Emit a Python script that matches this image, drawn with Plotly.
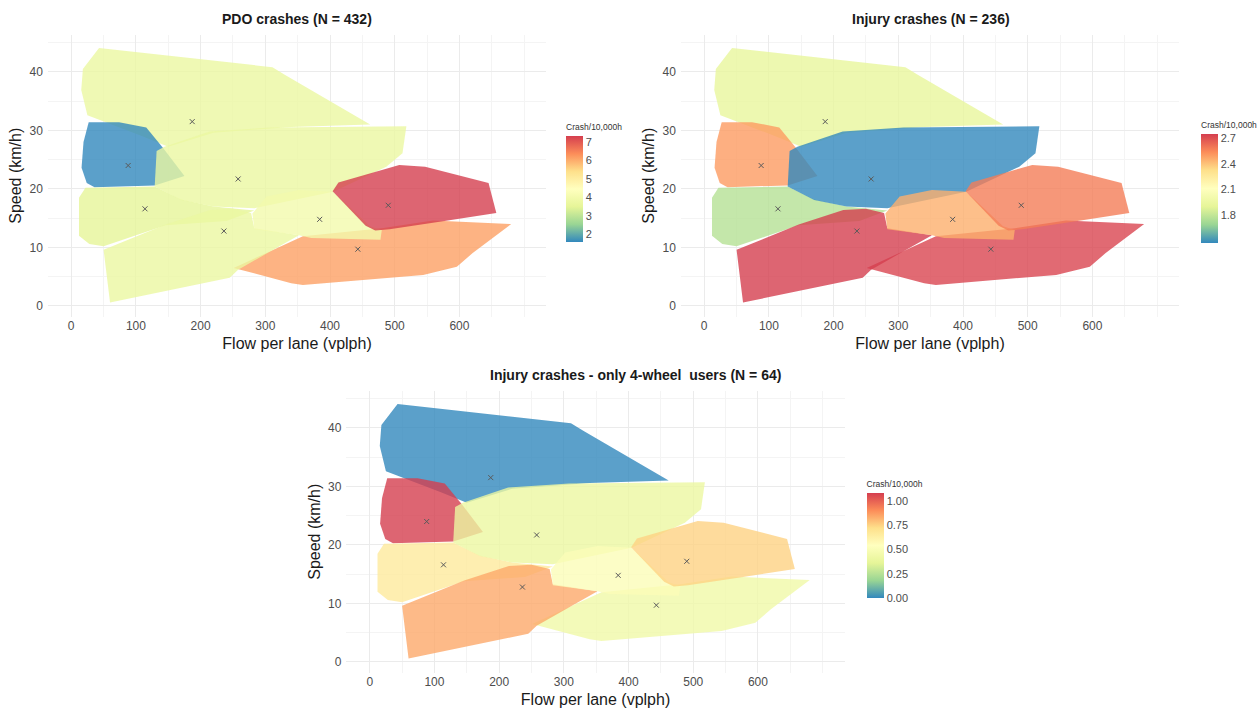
import plotly.graph_objects as go
from plotly.colors import sample_colorscale

W, H = 1257, 710

# Speed-flow regimes: convex hull of each cluster and its centroid
cluster_names = ["A", "B", "C", "D", "E", "F", "G", "H"]
centroid_flow = [187, 88, 258, 114, 236, 384, 490, 443]
centroid_speed = [31.5, 24.0, 21.7, 16.6, 12.8, 14.8, 17.2, 9.7]

hull_flow = [
    [43, 311, 330, 462, 340, 220, 150, 110, 25, 15.5, 18],
    [27, 74, 116, 142, 175, 129, 36, 24, 16, 19],
    [132, 144, 214, 308, 518, 512, 487, 405, 283, 220, 170, 129],
    [22, 129, 170, 220, 283, 240, 146, 50, 28, 12, 12],
    [50, 60, 245, 258, 352, 283, 278, 250, 215, 146],
    [280, 302, 352, 405, 462, 480, 478, 371, 352, 283],
    [404, 413, 507, 547, 645, 657, 577, 492, 470, 455],
    [251, 358, 480, 559, 680, 620, 596, 544, 358, 340],
]
hull_speed = [
    [44.1, 40.8, 39.5, 31.0, 30.6, 29.6, 27.2, 29.0, 32.6, 36.9, 40.5],
    [31.4, 31.4, 30.5, 27.0, 22.2, 20.6, 20.3, 21.0, 23.6, 28.0],
    [26.5, 27.2, 29.8, 30.5, 30.7, 26.1, 23.8, 19.5, 16.7, 17.0, 18.1, 20.4],
    [20.2, 20.4, 18.2, 17.0, 16.3, 14.5, 13.8, 10.2, 10.6, 12.0, 18.5],
    [9.6, 0.6, 4.8, 6.2, 12.1, 13.3, 15.9, 16.6, 16.4, 13.9],
    [15.8, 18.7, 19.8, 19.5, 13.6, 13.0, 11.3, 11.6, 12.1, 13.1],
    [19.6, 21.1, 24.1, 23.8, 21.0, 15.9, 14.5, 13.1, 12.9, 13.7],
    [6.5, 11.9, 13.3, 14.6, 14.0, 9.0, 6.7, 5.3, 3.6, 3.9],
]

# Crash rate (crashes per 10,000 h) in each regime
pdo_rate = [3.7, 1.57, 3.7, 3.5, 3.7, 4.0, 7.33, 6.15]
injury_rate = [1.92, 2.50, 1.47, 1.76, 2.75, 2.45, 2.58, 2.73]
injury4w_rate = [0.0, 1.08, 0.40, 0.66, 0.84, 0.51, 0.75, 0.43]

panel_titles = [
    "PDO crashes (N = 432)",
    "Injury crashes (N = 236)",
    "Injury crashes - only 4-wheel  users (N = 64)",
]
colorbar_ticks = [
    [2, 3, 4, 5, 6, 7],
    [1.8, 2.1, 2.4, 2.7],
    [0.0, 0.25, 0.5, 0.75, 1.0],
]
colorbar_ticktext = [
    ["2", "3", "4", "5", "6", "7"],
    ["1.8", "2.1", "2.4", "2.7"],
    ["0.00", "0.25", "0.50", "0.75", "1.00"],
]
flow_ticks = [0, 100, 200, 300, 400, 500, 600]
speed_ticks = [0, 10, 20, 30, 40]

draw_order = [0, 1, 3, 2, 7, 4, 5, 6]

spectral = ["#3288BD", "#99D594", "#E6F598", "#FFFFBF", "#FEE08B", "#FC8D59", "#D53E4F"]
scale = [[i / (len(spectral) - 1), c] for i, c in enumerate(spectral)]
FILL_ALPHA = 0.8
FONT = "Liberation Sans, Arial, sans-serif"

# panel boxes in pixels: left, right, top, bottom, title centre
panels = [
    (48, 547, 35, 316.5, 297),
    (682, 1181, 35, 316.5, 932),
    (347, 846, 391, 672.5, 637),
]
colorbars = [  # left, top, length
    (567, 121, 121),
    (1203, 119, 124),
    (868, 478, 120),
]


def rgba(frac):
    c = sample_colorscale(scale, [min(max(frac, 0), 1)])[0]
    r, g, b = [int(float(v)) for v in c[c.index("(") + 1:-1].split(",")]
    return f"rgba({r},{g},{b},{FILL_ALPHA})"


fig = go.Figure()
rates = [pdo_rate, injury_rate, injury4w_rate]

for p, rate in enumerate(rates):
    xa = "x" if p == 0 else f"x{p + 1}"
    ya = "y" if p == 0 else f"y{p + 1}"
    lo, hi = min(rate), max(rate)
    for k in draw_order:
        xs = hull_flow[k] + [hull_flow[k][0]]
        ys = hull_speed[k] + [hull_speed[k][0]]
        fig.add_trace(go.Scatter(
            x=xs, y=ys, mode="lines", fill="toself",
            fillcolor=rgba((rate[k] - lo) / (hi - lo)),
            line=dict(width=0), hoverinfo="text",
            text=f"{cluster_names[k]}: {rate[k]}",
            xaxis=xa, yaxis=ya, showlegend=False,
        ))
    fig.add_trace(go.Scatter(
        x=centroid_flow, y=centroid_speed, mode="markers",
        marker=dict(symbol="x-thin", size=5, line=dict(width=1, color="#5a5a5a")),
        xaxis=xa, yaxis=ya, showlegend=False, hoverinfo="skip",
    ))
    cx, ctop, clen = colorbars[p]
    fig.add_trace(go.Scatter(
        x=[None], y=[None], mode="markers",
        marker=dict(
            color=[lo], cmin=lo, cmax=hi, colorscale=scale, showscale=True,
            colorbar=dict(
                x=cx / W, xanchor="left", y=1 - ctop / H, yanchor="top",
                lenmode="pixels", len=clen, thickness=17, thicknessmode="pixels",
                xpad=0, ypad=0, outlinewidth=0, ticks="",
                tickvals=colorbar_ticks[p], ticktext=colorbar_ticktext[p],
                tickfont=dict(size=11, color="#4d4d4d", family=FONT),
                title=dict(text="Crash/10,000h", side="top",
                           font=dict(size=8.5, color="#333333", family=FONT)),
            ),
        ),
        xaxis=xa, yaxis=ya, showlegend=False, hoverinfo="skip",
    ))

axis_common = dict(
    showline=False, zeroline=False, ticks="",
    gridcolor="#ebebeb", gridwidth=1,
    tickfont=dict(size=12, color="#4d4d4d", family=FONT),
)
layout = dict(
    width=W, height=H, margin=dict(l=0, r=0, t=0, b=0),
    paper_bgcolor="white", plot_bgcolor="white",
    font=dict(family=FONT),
    annotations=[],
)
for p, (l, r, t, b, tc) in enumerate(panels):
    sfx = "" if p == 0 else str(p + 1)
    layout[f"xaxis{sfx}"] = dict(
        axis_common, domain=[l / W, r / W], range=[-36, 734],
        tickvals=flow_ticks, anchor=f"y{sfx}",
        minor=dict(dtick=50, tick0=0, gridcolor="#f4f4f4", gridwidth=1, showgrid=True),
        title=dict(text="Flow per lane (vplph)", standoff=6,
                   font=dict(size=16, color="#1a1a1a", family=FONT)),
    )
    layout[f"yaxis{sfx}"] = dict(
        axis_common, domain=[1 - b / H, 1 - t / H], range=[-1.8, 46.3],
        tickvals=speed_ticks, anchor=f"x{sfx}", ticklabelstandoff=4,
        minor=dict(dtick=5, tick0=0, gridcolor="#f4f4f4", gridwidth=1, showgrid=True),
        title=dict(text="Speed (km/h)", standoff=3,
                   font=dict(size=16, color="#1a1a1a", family=FONT)),
    )
    layout["annotations"].append(dict(
        text=f"<b>{panel_titles[p]}</b>", xref="paper", yref="paper",
        x=tc / W, y=1 - (t - 16) / H, xanchor="center", yanchor="middle",
        showarrow=False, font=dict(size=14, color="#1a1a1a", family=FONT),
    ))

fig.update_layout(**layout)
fig.write_html("out.html")
